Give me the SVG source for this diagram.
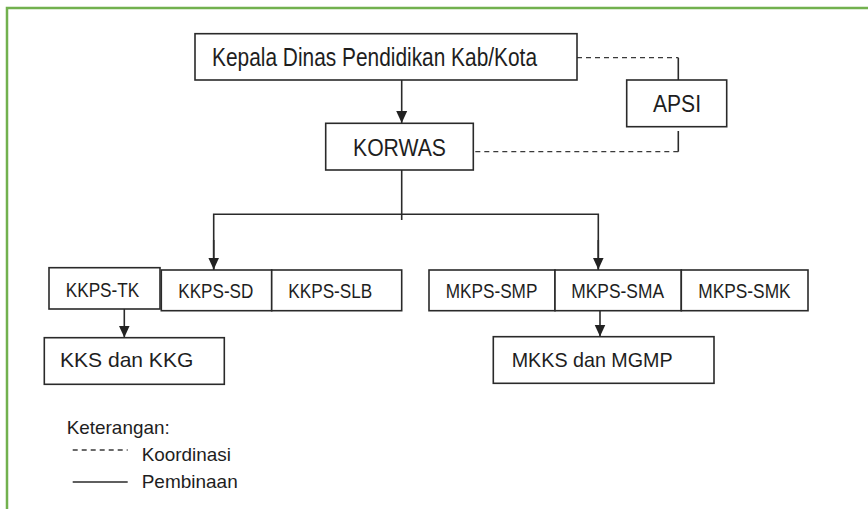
<svg xmlns="http://www.w3.org/2000/svg" width="868" height="509" viewBox="0 0 868 509">
<style>
.box{fill:#fff;stroke:#2a2a2a;stroke-width:1.6}
.t{font-family:"Liberation Sans",Arial,sans-serif;fill:#1e1e1e}
.ln{fill:none;stroke:#2a2a2a;stroke-width:1.6}
.dash{fill:none;stroke:#3a3a3a;stroke-width:1.3;stroke-dasharray:5,4}
</style>
<defs>
<marker id="ah" viewBox="0 0 12 12" refX="12" refY="6" markerWidth="12" markerHeight="12" markerUnits="userSpaceOnUse" orient="auto">
<path d="M0,0.5 L12,6 L0,11.5 z" fill="#222"/>
</marker>
</defs>
<rect width="868" height="509" fill="#fff"/>
<path d="M7,509 V8 H868" fill="none" stroke="#72b14e" stroke-width="2.5"/>

<g id="connectors">
<path class="ln" d="M401.7,80 V123" marker-end="url(#ah)"/>
<path class="ln" d="M401.7,170 V220"/>
<path class="ln" d="M213.7,270 V214.3 H598.3 V270"/>
<path class="ln" d="M213.7,240 V269.5" marker-end="url(#ah)"/>
<path class="ln" d="M598.3,240 V269.5" marker-end="url(#ah)"/>
<path class="ln" d="M124.3,309 V337.5" marker-end="url(#ah)"/>
<path class="ln" d="M600,310.7 V336.5" marker-end="url(#ah)"/>
<path class="dash" d="M577,57.7 H678.3"/>
<path class="ln" d="M678.3,57.7 V80"/>
<path class="ln" d="M678.3,131 V151.7"/>
<path class="dash" d="M678.3,151.7 H473.3"/>
</g>

<g id="kepala">
<rect class="box" x="195" y="33.7" width="382" height="46.3"/>
<text class="t" x="212" y="66" font-size="25" textLength="325" lengthAdjust="spacingAndGlyphs">Kepala Dinas Pendidikan Kab/Kota</text>
</g>
<g id="korwas">
<rect class="box" x="325.7" y="123.3" width="147.6" height="46.7"/>
<text class="t" x="353" y="155.7" font-size="24" textLength="93" lengthAdjust="spacingAndGlyphs">KORWAS</text>
</g>
<g id="apsi">
<rect class="box" x="626.7" y="80" width="100" height="46.7"/>
<text class="t" x="653" y="111.7" font-size="24" textLength="48" lengthAdjust="spacingAndGlyphs">APSI</text>
</g>
<g id="kkps-tk">
<rect class="box" x="49" y="267.7" width="111" height="41.3"/>
<text class="t" x="65.7" y="296.7" font-size="20.5" textLength="73.6" lengthAdjust="spacingAndGlyphs">KKPS-TK</text>
</g>
<g id="kkps-sd">
<rect class="box" x="161.3" y="270" width="110.4" height="40.7"/>
<text class="t" x="178.3" y="297.7" font-size="20.5" textLength="75" lengthAdjust="spacingAndGlyphs">KKPS-SD</text>
</g>
<g id="kkps-slb">
<rect class="box" x="271.7" y="270" width="130" height="40.7"/>
<text class="t" x="288.3" y="297.7" font-size="20.5" textLength="84" lengthAdjust="spacingAndGlyphs">KKPS-SLB</text>
</g>
<g id="mkps-smp">
<rect class="box" x="429" y="270" width="126" height="40.7"/>
<text class="t" x="445.7" y="298" font-size="20.5" textLength="91.7" lengthAdjust="spacingAndGlyphs">MKPS-SMP</text>
</g>
<g id="mkps-sma">
<rect class="box" x="555" y="270" width="126.3" height="40.7"/>
<text class="t" x="571.3" y="298" font-size="20.5" textLength="92.7" lengthAdjust="spacingAndGlyphs">MKPS-SMA</text>
</g>
<g id="mkps-smk">
<rect class="box" x="681.3" y="270" width="126.7" height="40.7"/>
<text class="t" x="698.3" y="298" font-size="20.5" textLength="92.3" lengthAdjust="spacingAndGlyphs">MKPS-SMK</text>
</g>
<g id="kks-kkg">
<rect class="box" x="44.3" y="337.7" width="180" height="46.6"/>
<text class="t" x="60" y="367" font-size="21" textLength="133.3" lengthAdjust="spacingAndGlyphs">KKS dan KKG</text>
</g>
<g id="mkks-mgmp">
<rect class="box" x="493.3" y="336.7" width="220.7" height="46.6"/>
<text class="t" x="511.7" y="367" font-size="21" textLength="161" lengthAdjust="spacingAndGlyphs">MKKS dan MGMP</text>
</g>

<g id="legend">
<text class="t" x="66.7" y="434" font-size="19" textLength="103" lengthAdjust="spacingAndGlyphs">Keterangan:</text>
<path class="dash" d="M72.7,450 H127.7" stroke-width="1.5" stroke-dasharray="4.5,3.5"/>
<text class="t" x="141.7" y="460.7" font-size="19" textLength="89.3" lengthAdjust="spacingAndGlyphs">Koordinasi</text>
<path class="ln" d="M72.7,482 H127.7"/>
<text class="t" x="141.7" y="488.3" font-size="19" textLength="96" lengthAdjust="spacingAndGlyphs">Pembinaan</text>
</g>
</svg>
